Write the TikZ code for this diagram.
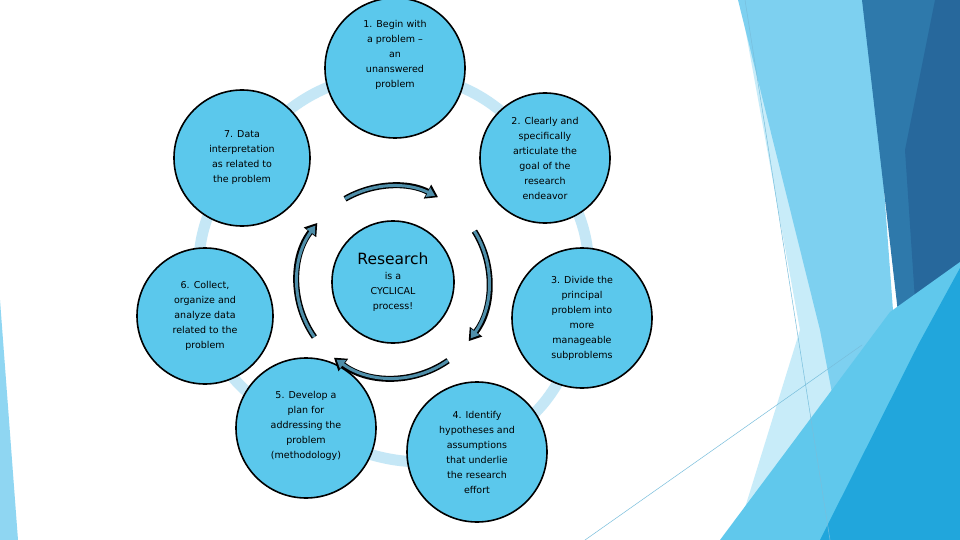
\documentclass[tikz,border=0pt]{standalone}
\usepackage{fontspec}
\setmainfont{DejaVu Sans}
\usetikzlibrary{arrows.meta}
\definecolor{cfill}{HTML}{5BC8EC}
\definecolor{ring}{HTML}{C5E7F6}
\definecolor{arr}{HTML}{4F8FAA}
\definecolor{bgA}{RGB}{143,214,242}
\definecolor{bgB}{RGB}{200,236,249}
\definecolor{bgC}{RGB}{125,208,240}
\definecolor{bgD}{RGB}{46,121,171}
\definecolor{bgE}{RGB}{39,104,156}
\definecolor{bgF}{RGB}{96,200,236}
\definecolor{bgG}{RGB}{33,166,220}
\definecolor{bgL}{RGB}{120,190,220}
\begin{document}
\begin{tikzpicture}[x=1pt,y=-1pt,
  stage/.style={circle,draw=black,line width=1.6pt,fill=cfill,minimum size=#1,inner sep=0pt,align=center,font=\fontsize{9.5}{15}\selectfont}]
\useasboundingbox (0,0) rectangle (960,540);
% background
\fill[white] (0,0) rectangle (960,540);
\fill[bgA] (0,300) -- (18,540) -- (0,540) -- cycle;
\fill[bgB] (740,0) -- (880,540) -- (735,540) -- (800,330) -- cycle;
\fill[bgC] (738,0) -- (870,0) -- (910,540) -- (860,540) -- (820,330) -- cycle;
\fill[bgD] (862,0) -- (960,0) -- (960,540) -- (900,540) -- (900,330) -- cycle;
\fill[bgE] (935,0) -- (960,0) -- (960,265) -- (918,345) -- (905,150) -- cycle;
\fill[bgF] (720,540) -- (890,312) -- (960,262) -- (960,540) -- cycle;
\fill[bgG] (820,540) -- (918,345) -- (960,268) -- (960,540) -- cycle;
\draw[bgL,line width=0.5pt] (745,0) -- (830,540);
\draw[bgL,line width=0.5pt] (585,540) -- (862,345);
% ring
\draw[ring,line width=11pt] plot[smooth cycle,tension=0.8] coordinates {(395,75) (545,158) (582,318) (477,450) (306,428) (205,316) (242,158)};
% nodes
\node[stage=122pt] (c) at (393,282) {\fontsize{15.5}{20}\selectfont Research\\is a\\CYCLICAL\\process!};
\node[stage=140pt] (n1) at (395,68) {1. Begin with\\a problem –\\an\\unanswered\\problem\\[14pt]};
\node[stage=130pt] (n2) at (545,158) {2. Clearly and\\specifically\\articulate the\\goal of the\\research\\endeavor};
\node[stage=140pt] (n3) at (582,318) {3. Divide the\\principal\\problem into\\more\\manageable\\subproblems};
\node[stage=140pt] (n4) at (477,452) {4. Identify\\hypotheses and\\assumptions\\that underlie\\the research\\effort};
\node[stage=140pt] (n5) at (306,428) {\\[-12pt]5. Develop a\\plan for\\addressing the\\problem\\(methodology)};
\node[stage=136pt] (n6) at (205,316) {6. Collect,\\organize and\\analyze data\\related to the\\problem};
\node[stage=136pt] (n7) at (242,158) {7. Data\\interpretation\\as related to\\the problem};
% cyclic arrows
\foreach \a/\b in {120/62, 32/-38, -55/-128, -145/-218}{
  \draw[line width=6pt,-{Triangle[length=12pt,width=15pt]}] ([shift={(\a:96pt)}]c.center) arc[start angle=\a,end angle=\b,radius=96pt];
  \draw[line width=3pt,arr,-{Triangle[length=8pt,width=10pt]}] ([shift={(\a:96pt)}]c.center) arc[start angle=\a,end angle=\b+2,radius=96pt];
}
\end{tikzpicture}
\end{document}
